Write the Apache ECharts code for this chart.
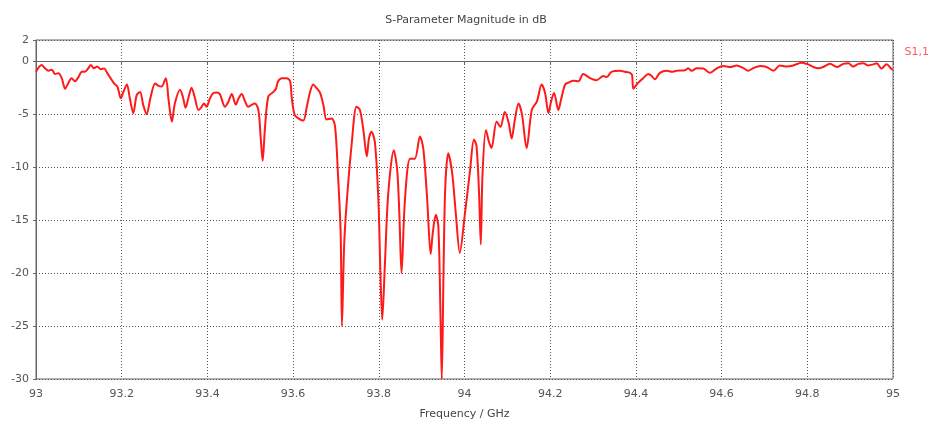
<!DOCTYPE html>
<html>
<head>
<meta charset="utf-8">
<script src="https://cdn.jsdelivr.net/npm/echarts@6/dist/echarts.min.js"></script>
<style>
  html, body { margin: 0; padding: 0; background: #ffffff; }
  #chart { width: 932px; height: 426px; }
</style>
</head>
<body>
<div id="chart"></div>
<script>
// Reflection coefficient S1,1 of the structure, sampled over 93–95 GHz
const chartTitle = 'S-Parameter Magnitude in dB';
const xAxisName = 'Frequency / GHz';
const seriesName = 'S1,1';

// frequency in GHz
const freq = [
  93.000, 93.013, 93.021, 93.029, 93.037, 93.044, 93.052, 93.060, 93.068, 93.075,
  93.083, 93.091, 93.099, 93.107, 93.114, 93.122, 93.128, 93.135, 93.143, 93.151,
  93.159, 93.166, 93.174, 93.182, 93.190, 93.198, 93.204, 93.212, 93.219, 93.227,
  93.235, 93.243, 93.250, 93.258, 93.268, 93.278, 93.285, 93.293, 93.303, 93.309,
  93.317, 93.324, 93.336, 93.343, 93.349, 93.356, 93.363, 93.371, 93.379, 93.385,
  93.392, 93.398, 93.406, 93.414, 93.422, 93.429, 93.441, 93.448, 93.457, 93.466,
  93.473, 93.480, 93.488, 93.495, 93.504, 93.511, 93.519, 93.524, 93.529, 93.534,
  93.542, 93.554, 93.560, 93.565, 93.574, 93.585, 93.593, 93.597, 93.604, 93.616,
  93.624, 93.632, 93.639, 93.647, 93.654, 93.663, 93.671, 93.678, 93.690, 93.698,
  93.705, 93.711, 93.714, 93.719, 93.725, 93.737, 93.748, 93.756, 93.764, 93.772,
  93.777, 93.783, 93.791, 93.799, 93.804, 93.808, 93.814, 93.822, 93.835, 93.843,
  93.848, 93.853, 93.861, 93.873, 93.884, 93.896, 93.904, 93.913, 93.921, 93.926,
  93.933, 93.939, 93.944, 93.947, 93.951, 93.955, 93.962, 93.971, 93.980, 93.989,
  94.001, 94.013, 94.022, 94.028, 94.034, 94.038, 94.042, 94.050, 94.057, 94.063,
  94.075, 94.084, 94.094, 94.103, 94.110, 94.118, 94.126, 94.134, 94.145, 94.157,
  94.169, 94.180, 94.188, 94.196, 94.202, 94.209, 94.219, 94.226, 94.235, 94.244,
  94.254, 94.266, 94.277, 94.293, 94.308, 94.324, 94.332, 94.343, 94.363, 94.374,
  94.386, 94.391, 94.394, 94.402, 94.409, 94.417, 94.429, 94.437, 94.444, 94.456,
  94.472, 94.484, 94.495, 94.515, 94.522, 94.530, 94.542, 94.557, 94.573, 94.589,
  94.604, 94.620, 94.635, 94.651, 94.662, 94.674, 94.690, 94.705, 94.721, 94.736,
  94.752, 94.767, 94.787, 94.802, 94.814, 94.826, 94.837, 94.853, 94.869, 94.884,
  94.896, 94.907, 94.919, 94.931, 94.942, 94.954, 94.962, 94.973, 94.985, 94.997,
  95.000
];

// |S1,1| in dB
const s11 = [
  -1.0, -0.36, -0.67, -0.9, -0.8, -1.2, -1.15, -1.6, -2.6, -2.1,
  -1.6, -1.9, -1.5, -1.0, -1.0, -0.67, -0.36, -0.67, -0.5, -0.75,
  -0.7, -1.1, -1.6, -2.1, -2.4, -3.5, -2.9, -2.2, -3.5, -4.9,
  -3.2, -2.9, -4.1, -5.0, -3.3, -2.1, -2.3, -2.4, -1.6, -3.5,
  -5.7, -4.0, -2.7, -3.4, -4.4, -3.4, -2.5, -3.5, -4.6, -4.4,
  -4.0, -4.3, -3.5, -3.0, -2.95, -3.1, -4.3, -3.9, -3.1, -4.1,
  -3.5, -3.1, -3.8, -4.3, -4.1, -4.0, -4.6, -7.0, -9.4, -6.5,
  -3.35, -2.9, -2.6, -1.9, -1.6, -1.6, -1.9, -3.5, -5.1, -5.5,
  -5.6, -4.3, -3.0, -2.2, -2.5, -3.0, -4.2, -5.5, -5.4, -6.2,
  -10.9, -16.2, -25.0, -17.5, -13.4, -7.7, -4.3, -4.6, -6.5, -9.0,
  -7.3, -6.65, -7.7, -13.1, -20.3, -24.4, -19.4, -12.5, -8.4, -10.3,
  -14.5, -20.0, -13.1, -9.2, -9.2, -7.1, -8.3, -13.1, -18.2, -16.2,
  -14.5, -15.6, -24.1, -30.0, -20.0, -12.0, -8.7, -10.5, -14.5, -18.1,
  -14.4, -10.3, -7.4, -8.0, -12.5, -17.3, -10.7, -6.5, -7.6, -8.2,
  -5.7, -6.2, -4.8, -5.8, -7.3, -5.4, -4.0, -5.0, -8.2, -4.6,
  -3.8, -2.2, -3.0, -4.9, -3.8, -3.0, -4.6, -3.5, -2.2, -2.0,
  -1.85, -1.9, -1.2, -1.6, -1.8, -1.4, -1.5, -1.0, -0.9, -1.0,
  -1.1, -1.3, -2.6, -2.2, -1.9, -1.6, -1.2, -1.4, -1.7, -1.1,
  -0.9, -1.0, -0.9, -0.85, -0.67, -0.9, -0.67, -0.7, -1.1, -0.67,
  -0.45, -0.55, -0.4, -0.65, -0.9, -0.65, -0.45, -0.55, -0.9, -0.4,
  -0.5, -0.4, -0.15, -0.3, -0.55, -0.67, -0.55, -0.25, -0.55, -0.25,
  -0.2, -0.5, -0.25, -0.2, -0.4, -0.3, -0.2, -0.7, -0.3, -0.77,
  -0.8
];

const xMin = 93, xMax = 95, xStep = 0.2;
const yMin = -30, yMax = 2, yStep = 5;

const points = freq.map((f, i) => [f, s11[i]]);

const axisGray = '#666666';
const textGray = '#555555';
const fontFamily = '"DejaVu Sans", Verdana, sans-serif';
const dotted = { color: '#555555', type: [1, 2], width: 1 };

const chart = echarts.init(document.getElementById('chart'), null, { renderer: 'canvas' });

chart.setOption({
  backgroundColor: '#ffffff',
  animation: false,
  title: {
    text: chartTitle,
    left: 'center',
    top: 10,
    textStyle: { fontFamily, fontSize: 11, fontWeight: 'normal', color: '#444444' }
  },
  grid: {
    left: 36, right: 39, top: 40, bottom: 47,
    show: true,
    borderColor: axisGray,
    borderWidth: 1,
    backgroundColor: 'transparent'
  },
  xAxis: {
    type: 'value',
    min: xMin, max: xMax, interval: xStep,
    name: xAxisName,
    nameLocation: 'middle',
    nameGap: 30,
    nameTextStyle: { fontFamily, fontSize: 11, color: '#444444' },
    axisLine: { show: true, lineStyle: { color: axisGray, width: 1 } },
    axisTick: { show: true, length: 3, lineStyle: { color: axisGray } },
    axisLabel: {
      fontFamily, fontSize: 11, color: textGray, margin: 10,
      formatter: v => String(Math.round(v * 10) / 10)
    },
    splitLine: { show: true, lineStyle: dotted }
  },
  yAxis: {
    type: 'value',
    min: yMin, max: yMax, interval: yStep,
    axisLine: { show: true, lineStyle: { color: axisGray, width: 1 } },
    axisTick: { show: true, length: 3, lineStyle: { color: axisGray } },
    axisLabel: { fontFamily, fontSize: 11, color: textGray, margin: 7 },
    splitLine: { show: true, lineStyle: dotted }
  },
  graphic: [{
    type: 'text',
    right: 3,
    top: 47,
    style: { text: seriesName, fill: '#ff5a5a', font: '11px ' + fontFamily }
  }],
  series: [{
    name: seriesName,
    type: 'line',
    data: points,
    showSymbol: false,
    smooth: 0.3,
    clip: true,
    lineStyle: { color: '#ff1a1a', width: 2 }
  }]
});
</script>
</body>
</html>
